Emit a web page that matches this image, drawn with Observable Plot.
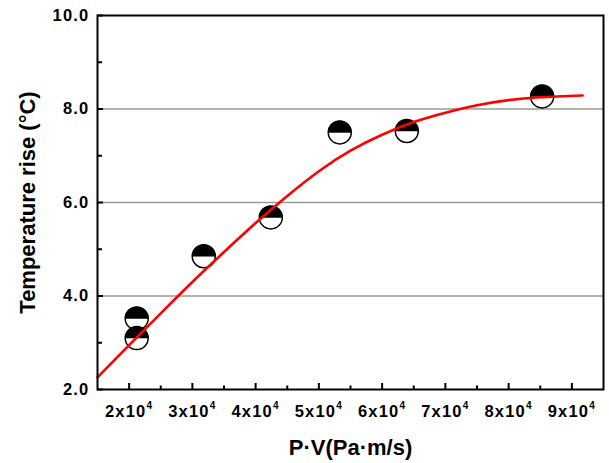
<!DOCTYPE html>
<html>
<head>
<meta charset="utf-8">
<script src="https://cdn.jsdelivr.net/npm/d3@7"></script>
<script src="https://cdn.jsdelivr.net/npm/@observablehq/plot@0.6"></script>
<style>
  body { margin: 0; background: #fff; }
  g[aria-label="y-axis tick label"],
  g[aria-label="x-axis tick label"] { font-weight: 700; font-size: 16.5px; letter-spacing: 1.2px; }
</style>
</head>
<body>
<div id="chart"></div>
<script>
// ---- data ----
const pvValues   = [21200, 21200, 31800, 42400, 53300, 63900, 85300];   // P·V (Pa·m/s)
const tempRise   = [3.52, 3.10, 4.85, 5.68, 7.50, 7.53, 8.27];          // °C

const fitPV   = [15000, 20000, 25000, 30000, 35000, 40000, 45000, 50000, 55000, 60000, 65000, 70000, 75000, 80000, 85000, 91700];
const fitTemp = [2.26, 2.95, 3.63, 4.30, 4.94, 5.56, 6.14, 6.67, 7.11, 7.45, 7.72, 7.92, 8.08, 8.19, 8.25, 8.29];

const xTicks      = [20000, 30000, 40000, 50000, 60000, 70000, 80000, 90000];
const xTickLabels = ["2x10", "3x10", "4x10", "5x10", "6x10", "7x10", "8x10", "9x10"];
const xTickExp    = "4";
const xMinorTicks = [25000, 35000, 45000, 55000, 65000, 75000, 85000];
const yTicks      = [2, 4, 6, 8, 10];
const yMinorTicks = [3, 5, 7, 9];
const yGrid       = [4, 6, 8];

const xTitle = "P·V(Pa·m/s)";
const yTitle = "Temperature rise (°C)";

// ---- tables ----
const points = pvValues.map((x, i) => ({x, y: tempRise[i]}));
const fit = fitPV.map((x, i) => ({x, y: fitTemp[i]}));

const halfTop = {
  draw(ctx, size) {
    const r = Math.sqrt(size / Math.PI);
    ctx.moveTo(r, 0);
    ctx.arc(0, 0, r, 0, Math.PI, true);
    ctx.closePath();
  }
};

const font = "'Liberation Sans', Arial, sans-serif";

const chart = Plot.plot({
  width: 609,
  height: 463,
  marginLeft: 97,
  marginRight: 6,
  marginTop: 15,
  marginBottom: 74,
  style: {fontFamily: font, background: "#fff", color: "#000", overflow: "visible"},
  x: {domain: [15000, 95000]},
  y: {domain: [2, 10]},
  marks: [
    Plot.gridY(yGrid, {stroke: "#999", strokeOpacity: 1, strokeWidth: 1.3}),
    // tick labels
    Plot.axisY(yTicks, {anchor: "left", tickSize: 0, tickPadding: 8, tickFormat: d => d.toFixed(1),
      fontSize: 16.5, fontWeight: "bold", label: null}),
    Plot.axisX(xTicks, {anchor: "bottom", tickSize: 0, tickPadding: 16,
      tickFormat: d => xTickLabels[xTicks.indexOf(d)], fontSize: 16.5, fontWeight: "bold", label: null}),
    // inward ticks (shifted into the frame)
    Plot.axisY(yTicks, {anchor: "left", tickSize: 6, dx: 6, fill: "none", label: null, strokeWidth: 2}),
    Plot.axisY(yMinorTicks, {anchor: "left", tickSize: 5, dx: 5, fill: "none", label: null, strokeWidth: 2}),
    Plot.axisX(xTicks, {anchor: "bottom", tickSize: 6, dy: -6, fill: "none", label: null, strokeWidth: 2}),
    Plot.axisX(xMinorTicks, {anchor: "bottom", tickSize: 3.5, dy: -3.5, fill: "none", label: null, strokeWidth: 2}),
    // axis titles
    Plot.axisY([], {anchor: "left", tickSize: 0, label: yTitle, labelAnchor: "center", labelArrow: false,
      labelOffset: 78, fontSize: 22, fontWeight: "bold"}),
    Plot.axisX([], {anchor: "bottom", tickSize: 0, label: xTitle, labelAnchor: "center", labelArrow: false,
      labelOffset: 65, fontSize: 22, fontWeight: "bold"}),
    // markers
    Plot.dot(points, {x: "x", y: "y", r: 11.5, fill: "white", stroke: "black", strokeWidth: 1.5}),
    Plot.dot(points, {x: "x", y: "y", r: 11.5, symbol: halfTop, fill: "black", stroke: "black", strokeWidth: 0.5}),
    // fitted curve
    Plot.line(fit, {x: "x", y: "y", stroke: "red", strokeWidth: 2.6, curve: "natural"}),
    Plot.frame({stroke: "black", strokeWidth: 2})
  ]
});

document.getElementById("chart").appendChild(chart);

// superscript exponent on x tick labels
const svgNS = "http://www.w3.org/2000/svg";
chart.querySelectorAll('g[aria-label="x-axis tick label"] text').forEach(t => {
  const base = t.textContent;
  if (!base) return;
  t.textContent = base;
  const ts = document.createElementNS(svgNS, "tspan");
  ts.setAttribute("dy", "-8");
  ts.setAttribute("font-size", "10");
  ts.textContent = xTickExp;
  t.appendChild(ts);
});
</script>
</body>
</html>
